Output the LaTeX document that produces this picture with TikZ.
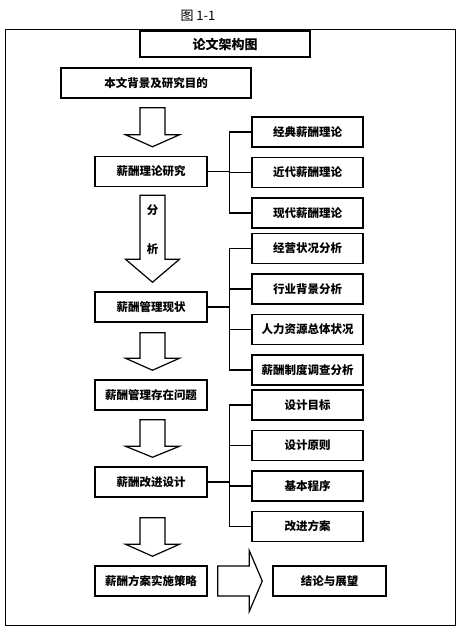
\documentclass[tikz,border=0pt]{standalone}
\usepackage{fontspec}
\newfontfamily\cjk{Noto Sans CJK SC}
\usepackage{tikz}
\usetikzlibrary{positioning,calc}

% hollow block arrow between two stacked boxes
\newcommand{\blockdown}[4]{%
  \path ($(#2.north)+(1.5,-9)$) coordinate (tip) ($(tip |- #1.south)+(0,#3)$) coordinate (top);
  \draw[blk] ($(top)+(-12.5,0)$) -- ($(top)+(12.5,0)$) -- ($(tip)+(12.5,-#4)$) -- ($(tip)+(27,-#4)$)
    -- (tip) -- ($(tip)+(-27,-#4)$) -- ($(tip)+(-12.5,-#4)$) -- cycle;}

\begin{document}
\begin{tikzpicture}[
  x=1pt, y=-1pt,
  box/.style={draw, line width=1.5pt, minimum width=112pt, minimum height=30pt, inner sep=2pt, font=\cjk\bfseries\fontsize{11.5pt}{13pt}\selectfont},
  sub/.style={box, minimum width=111pt},
  ttl/.style={box, minimum width=170pt, minimum height=26pt, font=\cjk\bfseries\fontsize{13pt}{15pt}\selectfont},
  link/.style={line width=1.2pt},
  blk/.style={line width=1.2pt, line join=miter}
]
\useasboundingbox (0,0) rectangle (459,638);
\node[font=\cjk\fontsize{13pt}{15pt}\selectfont] (fig) at (198,16) {图 1-1};
\draw[line width=0.8pt] (5,29) rectangle (455,625);
\node[ttl] (top) at (225,44) {论文架构图};
\node[box, minimum width=190pt] (bg) at (156,83) {本文背景及研究目的};
% main column
\node[box] (t1) at (151,171.5) {薪酬理论研究};
\node[box] (s1) at (151,307) {薪酬管理现状};
\node[box] (p1) at (151,395) {薪酬管理存在问题};
\node[box] (d1) at (151,482) {薪酬改进设计};
\node[box] (c1) at (151,581) {薪酬方案实施策略};
\node[box, minimum width=113pt] (end) at (329.5,581) {结论与展望};
% theory branch
\node[sub] (t11) at (307.5,132) {经典薪酬理论};
\node[sub, below=9pt of t11] (t12) {近代薪酬理论};
\node[sub, below=9pt of t12] (t13) {现代薪酬理论};
% status branch
\node[sub] (s11) at (307.5,248.5) {经营状况分析};
\node[sub, below=9pt of s11] (s12) {行业背景分析};
\node[sub, below=9pt of s12] (s13) {人力资源总体状况};
\node[sub, below=9pt of s13] (s14) {薪酬制度调查分析};
% design branch
\node[sub] (d11) at (307.5,405) {设计目标};
\node[sub, below=9pt of d11] (d12) {设计原则};
\node[sub, below=9pt of d12] (d13) {基本程序};
\node[sub, below=9pt of d13] (d14) {改进方案};
\draw[link] (t1.east) -- ++(22,0) coordinate (j1);
\draw[link] (t11.west) -| (j1);
\draw[link] (t12.west) -| (j1);
\draw[link] (t13.west) -| (j1);
\draw[link] (s1.east) -- ++(22,0) coordinate (j2);
\draw[link] (s11.west) -| (j2);
\draw[link] (s12.west) -| (j2);
\draw[link] (s13.west) -| (j2);
\draw[link] (s14.west) -| (j2);
\draw[link] (d1.east) -- ++(22,0) coordinate (j3);
\draw[link] (d11.west) -| (j3);
\draw[link] (d12.west) -| (j3);
\draw[link] (d13.west) -| (j3);
\draw[link] (d14.west) -| (j3);
% block arrows
\blockdown{bg}{t1}{9}{12}
\blockdown{t1}{s1}{8}{23}
\blockdown{s1}{p1}{10}{12}
\blockdown{p1}{d1}{9}{11}
\blockdown{d1}{c1}{20}{12}
\node[font=\cjk\bfseries\fontsize{11.5pt}{13pt}\selectfont] (fen) at (152.5,210) {分};
\node[font=\cjk\bfseries\fontsize{11.5pt}{13pt}\selectfont] (xi) at (152.5,249) {析};
\path ($(end.west)+(-10,0)$) coordinate (rtip) ($(c1.east)+(10,0)$) coordinate (rtail);
\draw[blk] ($(rtail)+(0,-15)$) -- ($(rtip)+(-13,-15)$) -- ($(rtip)+(-13,-30.5)$) -- (rtip)
  -- ($(rtip)+(-13,30.5)$) -- ($(rtip)+(-13,15)$) -- ($(rtail)+(0,15)$) -- cycle;
\end{tikzpicture}
\end{document}
